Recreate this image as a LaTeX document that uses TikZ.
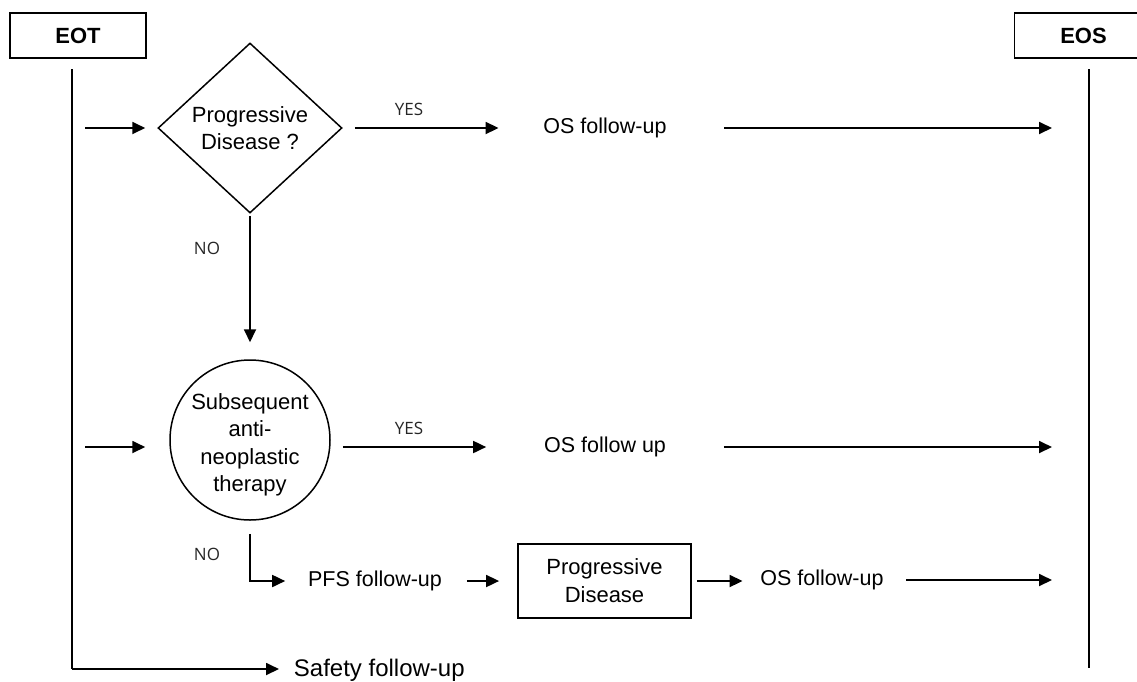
\documentclass[tikz,border=0pt]{standalone}
\usepackage{fontspec}
\setmainfont{Liberation Sans}
\newfontfamily\labfont{Open Sans}
\usetikzlibrary{shapes.geometric,arrows.meta}
\begin{document}
\begin{tikzpicture}[x=1pt,y=-1pt,
 line width=1.8pt,
 arr/.style={-{Triangle[length=13pt,width=12pt]}},
 frame/.style={draw, line width=1.8pt, inner sep=0},
 shp/.style={draw, line width=1.5pt, inner sep=0, align=center, font=\fontsize{22}{27.5}\selectfont},
 txt/.style={font=\fontsize{21.5}{26}\selectfont, inner sep=0},
 lbl/.style={font=\labfont\fontsize{17}{20}\selectfont, inner sep=0, text=black!85},
]
\useasboundingbox (0,0) rectangle (1137,681);
% top boxes
\node[frame, minimum width=136, minimum height=45, font=\bfseries\fontsize{22}{26}\selectfont] (eot) at (78,35.5) {EOT};
\node[frame, minimum width=138, minimum height=45, font=\bfseries\fontsize{22}{26}\selectfont] (eos) at (1083.5,35.5) {EOS};
% timelines
\coordinate (eott) at (72,69);
\coordinate (eotb) at (72,669);
\coordinate (eost) at (1089,69);
\coordinate (eosb) at (1089,668);
\draw (eott) -- (eotb);
\draw (eost) -- (eosb);
\node[inner sep=0, anchor=base west, font=\fontsize{24}{28}\selectfont] (safety) at (293,676) {Safety follow-up};
\draw[arr, shorten >=14] (eotb) -- (eotb -| safety.west);
% decision diamond
\node[diamond, shp, minimum width=184, minimum height=170, aspect=1.08] (pd) at (250,128) {Progressive\\Disease ?};
\coordinate (in1) at (85,128);
\draw[arr, shorten >=12] (in1) -- (pd.west);
\node[txt] (os1) at (605,128) {OS follow-up};
\draw[arr, shorten <=12, shorten >=44] (pd.east) -- (os1.west);
\node[lbl] (yes1) at (409,109) {YES};
\draw[arr, shorten <=57, shorten >=37] (os1.east) -- (os1.east -| eost);
% therapy circle
\node[circle, draw, line width=1.5pt, minimum size=160, inner sep=0] (sat) at (250,440) {};
\node[shp, draw=none] (satl) at (250,445) {Subsequent\\anti-\\neoplastic\\therapy};
\draw[arr, shorten <=2, shorten >=17] (pd.south) -- (sat.north);
\node[lbl] (no1) at (207,248) {NO};
\coordinate (in2) at (85,447);
\draw[arr, shorten >=24] (in2) -- (in2 -| sat.west);
\node[txt] (os2) at (605,447) {OS follow up};
\draw[arr, shorten <=12, shorten >=57] (sat.east |- os2.west) -- (os2.west);
\node[lbl] (yes2) at (409,428) {YES};
\draw[arr, shorten <=57, shorten >=37] (os2.east) -- (os2.east -| eost);
% bottom row
\node[txt] (pfs) at (375,581) {PFS follow-up};
\draw[arr, shorten <=13, shorten >=22] (sat.south) |- (pfs.west);
\node[lbl] (no2) at (207,554) {NO};
\node[frame, minimum width=173, minimum height=74, align=center, font=\fontsize{22}{28}\selectfont] (pdb) at (604.5,581) {Progressive\\Disease};
\draw[arr, shorten <=24, shorten >=18] (pfs.east) -- (pfs.east -| pdb.west);
\node[txt] (os3) at (822,580) {OS follow-up};
\draw[arr, shorten <=5, shorten >=17] (pdb.east) -- (pdb.east -| os3.west);
\draw[arr, shorten <=22, shorten >=37] (os3.east) -- (os3.east -| eost);
\end{tikzpicture}
\end{document}
